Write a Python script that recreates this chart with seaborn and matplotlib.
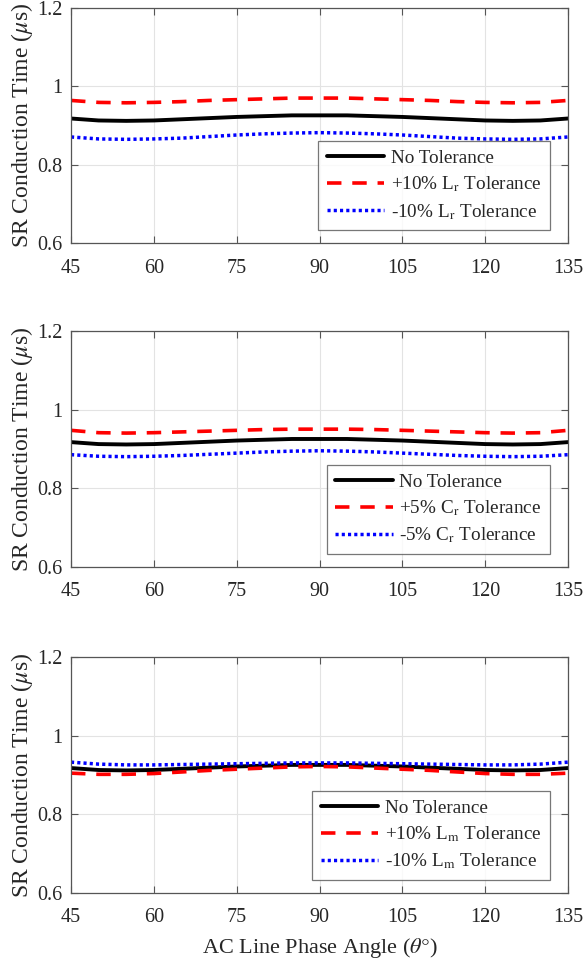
import seaborn as sns
import matplotlib.pyplot as plt
import pandas as pd

# phase angle samples (degrees)
angle = [45, 50, 55, 60, 65, 70, 75, 80, 85, 90, 95, 100, 105, 110, 115, 120, 125, 130, 135]

# nominal design, same on all three panels
no_tol = [0.918, 0.913, 0.912, 0.913, 0.916, 0.919, 0.922, 0.924, 0.926, 0.926,
          0.926, 0.924, 0.922, 0.919, 0.916, 0.913, 0.912, 0.913, 0.918]

# panel 1: Lr tolerance
lr_plus = [0.964, 0.959, 0.958, 0.959, 0.961, 0.964, 0.966, 0.968, 0.970, 0.970,
           0.970, 0.968, 0.966, 0.964, 0.961, 0.959, 0.958, 0.959, 0.964]
lr_minus = [0.871, 0.866, 0.865, 0.866, 0.868, 0.872, 0.876, 0.879, 0.881, 0.882,
            0.881, 0.879, 0.876, 0.872, 0.868, 0.866, 0.865, 0.866, 0.871]

# panel 2: Cr tolerance
cr_plus = [0.948, 0.942, 0.941, 0.942, 0.944, 0.946, 0.948, 0.950, 0.951, 0.951,
           0.951, 0.950, 0.948, 0.946, 0.944, 0.942, 0.941, 0.942, 0.948]
cr_minus = [0.886, 0.882, 0.881, 0.882, 0.884, 0.887, 0.890, 0.893, 0.895, 0.896,
            0.895, 0.893, 0.890, 0.887, 0.884, 0.882, 0.881, 0.882, 0.886]

# panel 3: Lm tolerance
lm_plus = [0.905, 0.902, 0.902, 0.904, 0.908, 0.912, 0.915, 0.918, 0.921, 0.922,
           0.921, 0.918, 0.915, 0.912, 0.908, 0.904, 0.902, 0.902, 0.905]
lm_minus = [0.933, 0.928, 0.926, 0.926, 0.927, 0.928, 0.929, 0.930, 0.931, 0.931,
            0.931, 0.930, 0.929, 0.928, 0.927, 0.926, 0.926, 0.928, 0.933]

panels = [
    ("+10% L$_\\mathrm{r}$ Tolerance", lr_plus, "-10% L$_\\mathrm{r}$ Tolerance", lr_minus),
    ("+5% C$_\\mathrm{r}$ Tolerance", cr_plus, "-5% C$_\\mathrm{r}$ Tolerance", cr_minus),
    ("+10% L$_\\mathrm{m}$ Tolerance", lm_plus, "-10% L$_\\mathrm{m}$ Tolerance", lm_minus),
]

sns.set_style("whitegrid")
plt.rcParams['font.family'] = ['Liberation Serif', 'DejaVu Serif']
plt.rcParams['mathtext.fontset'] = 'stix'

fig = plt.figure(figsize=(5.84, 9.66), dpi=100)
bottoms = [0.748, 0.413, 0.0756]
height = 0.244

for (plus_lab, plus, minus_lab, minus), b in zip(panels, bottoms):
    ax = fig.add_axes([0.1216, b, 0.851, height])
    sns.lineplot(x=angle, y=no_tol, ax=ax, color='black', lw=2.8, label='No Tolerance')
    sns.lineplot(x=angle, y=plus, ax=ax, color='red', lw=2.6, linestyle=(0, (4, 3)), label=plus_lab)
    sns.lineplot(x=angle, y=minus, ax=ax, color='blue', lw=2.5, linestyle=(0, (0.9, 0.9)), label=minus_lab)
    ax.set_xlim(45, 135)
    ax.set_ylim(0.6, 1.2)
    ax.set_xticks([45, 60, 75, 90, 105, 120, 135])
    ax.set_yticks([0.6, 0.8, 1.0, 1.2])
    ax.set_yticklabels(['0.6', '0.8', '1', '1.2'])
    ax.tick_params(labelsize=14.5, direction='in', length=5, top=True, right=True,
                   bottom=True, left=True, color='#555555')
    ax.tick_params(axis='x', pad=11)
    ax.tick_params(axis='y', pad=6)
    ax.grid(True, color='#e3e3e3', lw=0.8)
    for s in ax.spines.values():
        s.set_color('#555555')
        s.set_linewidth(0.9)
    ax.set_ylabel('SR Conduction Time ($\\mu$s)', fontsize=17, labelpad=2)
    leg = ax.legend(loc='lower right', bbox_to_anchor=(0.964, 0.055), borderaxespad=0,
                    fontsize=13.8, frameon=True, fancybox=False, handlelength=3.0,
                    handletextpad=0.35, labelspacing=0.4, borderpad=0.45)
    leg.get_frame().set_edgecolor('#555555')
    leg.get_frame().set_linewidth(0.9)

ax.set_xlabel('AC Line Phase Angle ($\\theta°$)', fontsize=16, labelpad=6)

fig.savefig('out.png', dpi=100)
